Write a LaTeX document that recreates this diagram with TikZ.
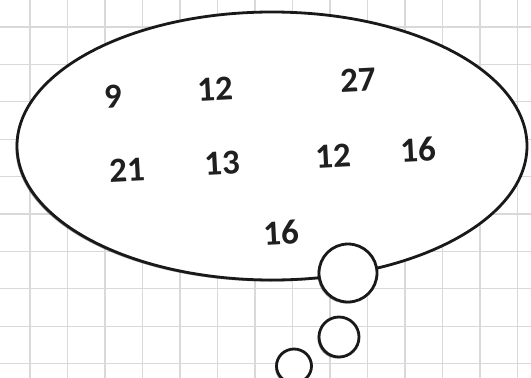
\documentclass[tikz,border=0pt]{standalone}
\usepackage{fontspec}
\setmainfont{Carlito}
\usetikzlibrary{shadows}

\tikzset{
  bubble/.style={draw=black!90, line width=2.8pt, fill=white,
    drop shadow={shadow xshift=-1.5pt, shadow yshift=-1.5pt, opacity=0.4, fill=black}},
  num/.style={font=\bfseries\fontsize{35}{35}\selectfont, text=black!88, inner sep=0pt, rotate=3}
}

\begin{document}
\begin{tikzpicture}[x=1pt, y=-1pt]
		\useasboundingbox (0,0) rectangle (531,378);
		
		% Grid
		\foreach \gx in {0,...,13}
			\draw[black!15, line width=1.2pt] (30+37.5*\gx,0) -- (30+37.5*\gx,378);
		\foreach \gy in {0,...,9}
			\draw[black!15, line width=1.2pt] (0,27+37.4*\gy) -- (531,27+37.4*\gy);
		
		\coordinate (C) at (272,146);
		\coordinate (B1) at (348,273);
		\coordinate (B2) at (339,337);
		\coordinate (B3) at (294,366);
		
		% Thought bubble
		\draw[bubble] (C) ellipse [x radius=255pt, y radius=134pt];
		\draw[bubble] (B1) circle (29pt);
		\draw[bubble] (B2) circle (20pt);
		\draw[bubble] (B3) ellipse [x radius=17.5pt, y radius=17pt];
		
		% Numbers
		\node[num] (n9) at (113,97) {9};
		\node[num] (n12a) at (215,89) {12};
		\node[num] (n27) at (358,80) {27};
		\node[num] (n21) at (127,170) {21};
		\node[num] (n13) at (222,163) {13};
		\node[num] (n12b) at (333,156) {12};
		\node[num] (n16a) at (418,150) {16};
		\node[num] (n16b) at (281,233) {16};
		
	\end{tikzpicture}
\end{document}
